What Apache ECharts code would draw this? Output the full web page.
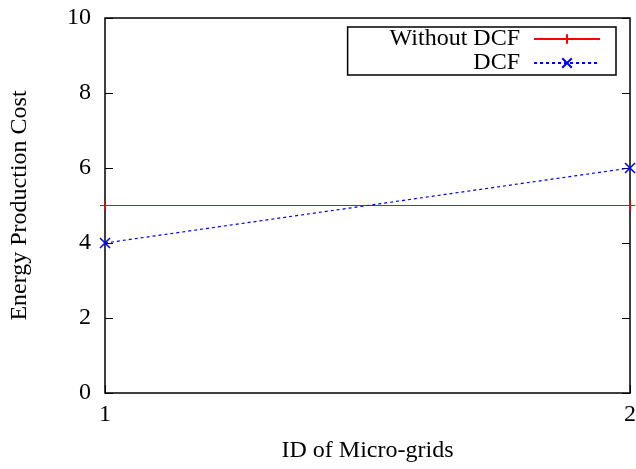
<!DOCTYPE html>
<html>
<head>
<meta charset="utf-8">
<script src="https://cdn.jsdelivr.net/npm/echarts@6/dist/echarts.min.js"></script>
<style>
  html, body { margin: 0; padding: 0; background: #fff; }
  #main { width: 636px; height: 469px; }
</style>
</head>
<body>
<div id="main"></div>
<script>
var microGrids = [1, 2];
var withoutDcf = [5, 5];
var withDcf = [4, 6];

var plusPath = 'path://M0,5L10,5M5,0L5,10';
var crossPath = 'path://M0,0L10,10M10,0L0,10';
var font = 'Liberation Serif';

function pairs(xs, ys) {
    return xs.map(function (x, k) { return [x, ys[k]]; });
}

var chart = echarts.init(document.getElementById('main'));

var option = {
    animation: false,
    grid: {
        left: 105, right: 6, top: 18, bottom: 76,
        outerBoundsMode: 'none', containLabel: false,
        show: true, borderColor: '#000', borderWidth: 1.5
    },
    legend: {
        right: 20, top: 27,
        orient: 'vertical',
        align: 'right',
        itemGap: 0,
        itemWidth: 66,
        itemHeight: 12,
        padding: [0, 15, 0, 42],
        borderColor: '#000',
        borderWidth: 1.5,
        textStyle: { fontFamily: font, fontSize: 24, color: '#000', padding: [0, 9, 0, 0] },
        data: ['Without DCF', 'DCF']
    },
    xAxis: {
        type: 'value', min: 1, max: 2, interval: 1,
        name: 'ID of Micro-grids', nameLocation: 'middle', nameGap: 46,
        nameTextStyle: { fontFamily: font, fontSize: 24, color: '#000' },
        axisLine: { show: false },
        axisTick: { inside: true, length: 8, lineStyle: { color: '#000' } },
        axisLabel: { fontFamily: font, fontSize: 24, color: '#000', margin: 10 },
        splitLine: { show: false }
    },
    yAxis: [{
        type: 'value', min: 0, max: 10, interval: 2,
        name: 'Energy Production Cost', nameLocation: 'middle', nameGap: 73,
        nameTextStyle: { fontFamily: font, fontSize: 24, color: '#000' },
        axisLine: { show: false },
        axisTick: { inside: true, length: 8, lineStyle: { color: '#000' } },
        axisLabel: { fontFamily: font, fontSize: 24, color: '#000', margin: 14 },
        splitLine: { show: false }
    }, {
        type: 'value', min: 0, max: 10, interval: 2, position: 'right',
        axisLine: { show: false },
        axisTick: { inside: true, length: 8, lineStyle: { color: '#000' } },
        axisLabel: { show: false },
        splitLine: { show: false }
    }],
    series: [{
        name: 'Without DCF',
        type: 'line',
        data: pairs(microGrids, withoutDcf),
        symbol: plusPath,
        symbolSize: 10,
        itemStyle: { color: '#ff0000', borderColor: '#ff0000', borderWidth: 1.2 },
        lineStyle: { color: '#ff0000', width: 1.2 }
    }, {
        name: 'DCF',
        type: 'line',
        data: pairs(microGrids, withDcf),
        symbol: crossPath,
        symbolSize: 10,
        itemStyle: { color: '#0000ff', borderColor: '#0000ff', borderWidth: 1.5 },
        lineStyle: { color: '#0000ff', width: 1.2, type: [3, 3] }
    }]
};

chart.setOption(option);
</script>
</body>
</html>
